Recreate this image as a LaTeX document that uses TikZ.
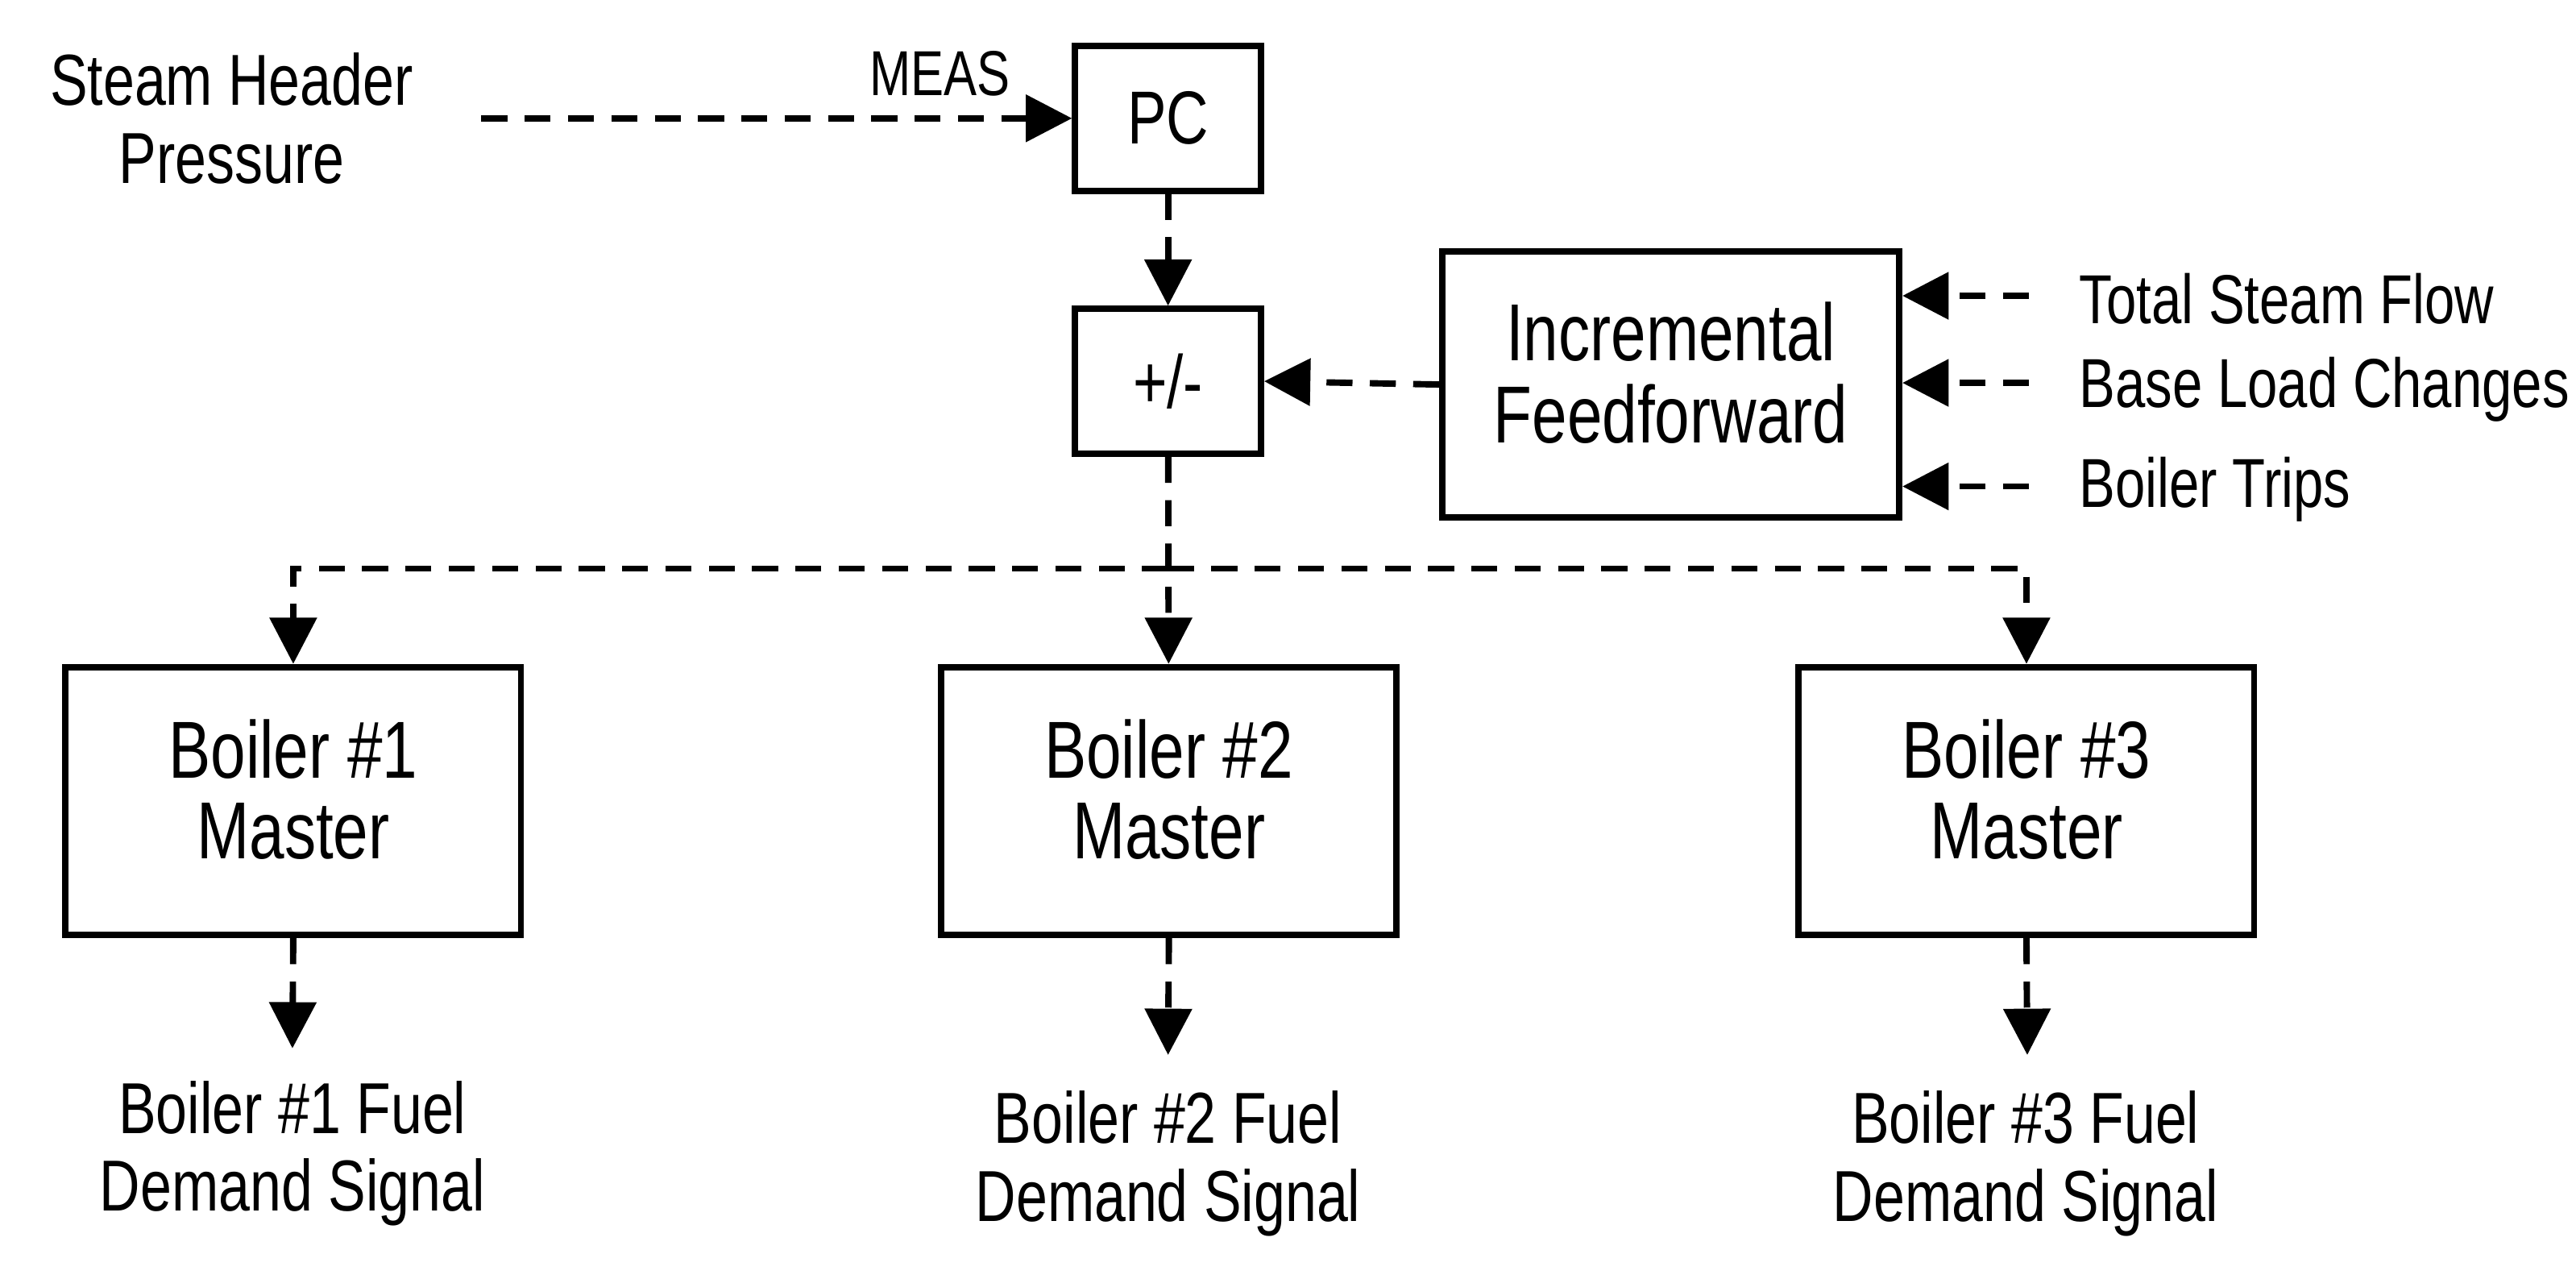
\documentclass[tikz,border=0pt]{standalone}
\usepackage{fontspec}
\setmainfont{Liberation Sans}[FakeStretch=0.78]
\usetikzlibrary{arrows.meta}
\newcommand{\uptxt}[1]{\raisebox{0.08cm}{\begin{tabular}{@{}c@{}}#1\end{tabular}}}
\begin{document}
\begin{tikzpicture}[x=0.01cm,y=-0.01cm,
  box/.style={draw,line width=1.1pt,inner sep=0pt},
  lbl/.style={font=\fontsize{12.5pt}{13.5pt}\selectfont,align=center,inner sep=0pt},
  rlbl/.style={font=\fontsize{12pt}{13.5pt}\selectfont,inner sep=0pt,anchor=west},
  blbl/.style={font=\fontsize{14pt}{14pt}\selectfont,inner sep=0pt},
  sm/.style={font=\fontsize{11pt}{13pt}\selectfont,inner sep=0pt},
  sig/.style={line width=1.1pt,dash pattern=on 4.5pt off 3pt,-{Triangle[length=8pt,width=8pt]}}]
\useasboundingbox (0,0) rectangle (1568,778);
\renewcommand{\arraystretch}{1.0}
\node[box,minimum width=1.13cm,minimum height=0.88cm,font=\fontsize{13pt}{15pt}\selectfont] (pc) at (711,72) {PC};
\node[box,minimum width=1.13cm,minimum height=0.88cm,font=\fontsize{13pt}{15pt}\selectfont] (pm) at (711,232) {+/-};
\node[box,minimum width=2.78cm,minimum height=1.62cm,blbl] (ff) at (1017,234) {\uptxt{Incremental\\Feedforward}};
\node[box,minimum width=2.77cm,minimum height=1.63cm,blbl] (b1) at (178.5,487.5) {\uptxt{Boiler \#1\\Master}};
\node[box,minimum width=2.77cm,minimum height=1.63cm,blbl] (b2) at (711.5,487.5) {\uptxt{Boiler \#2\\Master}};
\node[box,minimum width=2.77cm,minimum height=1.63cm,blbl] (b3) at (1233.5,487.5) {\uptxt{Boiler \#3\\Master}};
\node[lbl] (shp) at (141,72) {Steam Header\\Pressure};
\node[sm] (meas) at (572,45) {MEAS};
\node[rlbl] (t1) at (1265,182) {Total Steam Flow};
\node[rlbl] (t2) at (1265,237) {Base Load Changes};
\node[rlbl] (t3) at (1265,298) {Boiler Trips};
\node[lbl] (o1) at (178,702) {Boiler \#1 Fuel\\Demand Signal};
\node[lbl] (o2) at (711,708) {Boiler \#2 Fuel\\Demand Signal};
\node[lbl] (o3) at (1233,708) {Boiler \#3 Fuel\\Demand Signal};
\coordinate (s0) at (293,72);
\draw[sig] (s0) -- (pc.west);
\draw[sig] (pc) -- (pm);
\draw[sig] (ff.west) -- (pm.east);
\coordinate (i1) at (1235,180);\coordinate (i2) at (1235,233);\coordinate (i3) at (1235,296);
\draw[sig] (i1) -- (i1 -| ff.east);
\draw[sig] (i2) -- (i2 -| ff.east);
\draw[sig] (i3) -- (i3 -| ff.east);
\coordinate (bus) at (711,346);
\draw[sig] (pm) -- (b2);
\draw[sig] (bus) -| (b1.north);
\draw[sig] (bus) -| (b3.north);
\coordinate (e1) at (178,638);\coordinate (e2) at (711,642);\coordinate (e3) at (1234,642);
\draw[sig] (b1.south) -- (e1);
\draw[sig] (b2.south) -- (e2);
\draw[sig] (b3.south) -- (e3);
\end{tikzpicture}
\end{document}
